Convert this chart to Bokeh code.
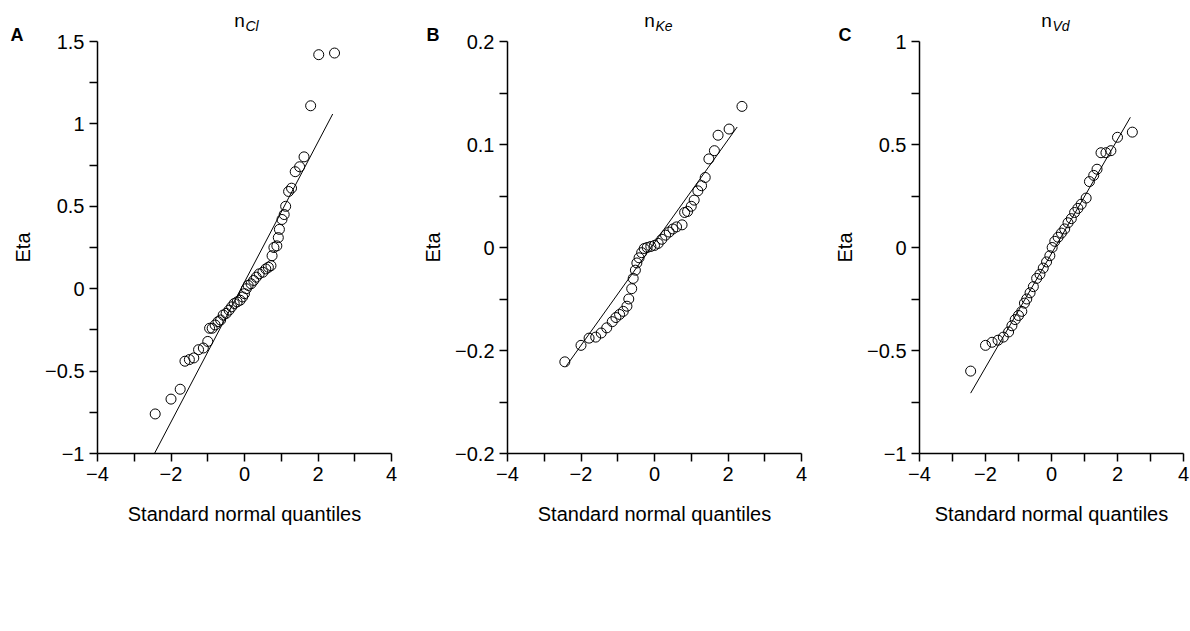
import math
from bokeh.plotting import figure
from bokeh.models import Range1d, FixedTicker, Label
from bokeh.layouts import row
from bokeh.embed import file_html
from bokeh.resources import INLINE

# panel A: n_Cl
a_x = [-2.43, -2.0, -1.75, -1.62, -1.5, -1.38, -1.25, -1.12, -1.0, -0.95, -0.88, -0.8, -0.72,
       -0.65, -0.58, -0.5, -0.42, -0.35, -0.28, -0.2, -0.12, -0.05, 0.0, 0.05, 0.1, 0.18, 0.25,
       0.32, 0.4, 0.5, 0.58, 0.65, 0.72, 0.75, 0.8, 0.88, 0.92, 0.95, 1.02, 1.08, 1.12, 1.2,
       1.28, 1.38, 1.5, 1.62, 1.8, 2.02, 2.45]
a_y = [-0.76, -0.67, -0.61, -0.44, -0.43, -0.42, -0.37, -0.36, -0.32, -0.24, -0.24, -0.22, -0.2,
       -0.19, -0.16, -0.15, -0.13, -0.11, -0.09, -0.08, -0.07, -0.05, -0.03, 0.0, 0.02, 0.03, 0.05,
       0.07, 0.09, 0.1, 0.12, 0.13, 0.14, 0.2, 0.25, 0.26, 0.31, 0.36, 0.42, 0.45, 0.5, 0.59,
       0.61, 0.71, 0.74, 0.8, 1.11, 1.42, 1.43]
a_line_x = [-2.45, 2.4]
a_line_y = [-1.0, 1.06]

# panel B: n_Ke
b_x = [-2.44, -2.0, -1.78, -1.6, -1.45, -1.3, -1.15, -1.05, -0.95, -0.85, -0.75, -0.7, -0.62,
       -0.58, -0.52, -0.48, -0.42, -0.35, -0.28, -0.2, -0.1, 0.0, 0.1, 0.2, 0.3, 0.4, 0.5, 0.6,
       0.75, 0.82, 0.9, 1.0, 1.08, 1.18, 1.28, 1.38, 1.48, 1.63, 1.73, 2.03, 2.38]
b_y = [-0.111, -0.095, -0.088, -0.087, -0.083, -0.078, -0.072, -0.068, -0.065, -0.062, -0.057,
       -0.05, -0.04, -0.03, -0.022, -0.015, -0.01, -0.005, -0.001, 0.0, 0.001, 0.002, 0.004,
       0.008, 0.012, 0.015, 0.018, 0.02, 0.022, 0.034, 0.035, 0.04, 0.046, 0.055, 0.06, 0.068,
       0.086, 0.094, 0.109, 0.115, 0.137]
b_line_x = [-2.4, 2.25]
b_line_y = [-0.115, 0.117]

# panel C: n_Vd
c_x = [-2.45, -2.0, -1.8, -1.62, -1.46, -1.3, -1.2, -1.1, -1.0, -0.9, -0.82, -0.75, -0.65, -0.55,
       -0.45, -0.35, -0.25, -0.15, -0.05, 0.02, 0.1, 0.2, 0.3, 0.4, 0.5, 0.6, 0.7, 0.8, 0.9,
       1.05, 1.15, 1.28, 1.38, 1.5, 1.65, 1.8, 2.0, 2.45]
c_y = [-0.6, -0.475, -0.46, -0.45, -0.435, -0.41, -0.38, -0.35, -0.33, -0.31, -0.27, -0.25, -0.22,
       -0.19, -0.15, -0.13, -0.1, -0.07, -0.04, 0.0, 0.03, 0.05, 0.07, 0.09, 0.12, 0.14, 0.17,
       0.19, 0.21, 0.24, 0.32, 0.35, 0.38, 0.46, 0.46, 0.47, 0.535, 0.56]
c_line_x = [-2.45, 2.39]
c_line_y = [-0.707, 0.632]

FONT = "Liberation Sans"
HEIGHT = 545
TOP = 41
FRAME_H = 412
BOTTOM = HEIGHT - TOP - FRAME_H


def panel(xs, ys, lx, ly, yr, yticks, yminor, ylabels, letter, sub, width, left, letter_px):
    right = 7
    fw = width - left - right
    sx = 8 / fw                      # data units per pixel, x
    sy = (yr[1] - yr[0]) / FRAME_H   # data units per pixel, y
    # the frame covers the whole canvas; both axes are pinned at the data edges
    p = figure(width=width, height=HEIGHT, output_backend="svg", toolbar_location=None,
               x_range=Range1d(-4 - left * sx, 4 + right * sx),
               y_range=Range1d(yr[0] - BOTTOM * sy, yr[1] + TOP * sy),
               min_border=0)
    p.outline_line_color = None
    p.grid.visible = False
    p.background_fill_color = None
    p.border_fill_color = None

    p.line(lx, ly, line_color="black", line_width=1)
    p.scatter(xs, ys, size=10, fill_color=None, line_color="black", line_width=1)

    p.xaxis.ticker = FixedTicker(ticks=[-4, -2, 0, 2, 4], minor_ticks=[-3, -1, 1, 3])
    p.xaxis.bounds = (-4, 4)
    p.xaxis.fixed_location = yr[0]
    p.yaxis.ticker = FixedTicker(ticks=yticks, minor_ticks=yminor)
    p.yaxis.major_label_overrides = ylabels
    p.yaxis.bounds = yr
    p.yaxis.fixed_location = -4
    for ax in (p.xaxis, p.yaxis):
        ax.major_tick_out = 8
        ax.major_tick_in = 0
        ax.minor_tick_out = 8
        ax.minor_tick_in = 0
        ax.axis_line_width = 1.5
        ax.major_tick_line_width = 1.5
        ax.minor_tick_line_width = 1.5
        ax.major_label_text_font = FONT
        ax.major_label_text_font_size = "20px"
        ax.major_label_text_color = "black"

    p.add_layout(Label(x=0, y=yr[0] - 60 * sy, text="Standard normal quantiles",
                       text_font=FONT, text_font_size="20px", text_align="center",
                       text_color="black", text_baseline="middle"))
    p.add_layout(Label(x=-4 - 75 * sx, y=(yr[0] + yr[1]) / 2, text="Eta", angle=math.pi / 2,
                       text_font=FONT, text_font_size="20px", text_align="center",
                       text_color="black", text_baseline="middle"))
    p.add_layout(Label(x=-4 - letter_px * sx, y=yr[1] + 7 * sy, text=letter,
                       text_font=FONT, text_font_size="18px", text_font_style="bold",
                       text_color="black", text_baseline="middle"))
    p.add_layout(Label(x=-5 * sx, y=yr[1] + 21 * sy, text="n",
                       text_font=FONT, text_font_size="19px", text_align="center",
                       text_color="black", text_baseline="middle"))
    p.add_layout(Label(x=1 * sx, y=yr[1] + 16 * sy, text=sub,
                       text_font=FONT, text_font_size="14px", text_font_style="italic",
                       text_color="black", text_baseline="middle"))
    return p


pa = panel(a_x, a_y, a_line_x, a_line_y, (-1, 1.5), [-1, -0.5, 0, 0.5, 1, 1.5],
           [-0.75, -0.25, 0.25, 0.75, 1.25],
           {-1: "\u22121", -0.5: "\u22120.5", 0: "0", 0.5: "0.5", 1: "1", 1.5: "1.5"},
           "A", "Cl", 398, 97, 87)
pb = panel(b_x, b_y, b_line_x, b_line_y, (-0.2, 0.2), [-0.2, -0.1, 0, 0.1, 0.2],
           [-0.15, -0.05, 0.05, 0.15],
           {-0.2: "\u22120.2", -0.1: "\u22120.2", 0: "0", 0.1: "0.1", 0.2: "0.2"},
           "B", "Ke", 410, 109, 81)
pc = panel(c_x, c_y, c_line_x, c_line_y, (-1, 1), [-1, -0.5, 0, 0.5, 1],
           [-0.75, -0.25, 0.25, 0.75],
           {-1: "\u22121", -0.5: "\u22120.5", 0: "0", 0.5: "0.5", 1: "1"},
           "C", "Vd", 382, 111, 81)

layout = row(pa, pb, pc)
open("out.html", "w").write(file_html(layout, INLINE))
